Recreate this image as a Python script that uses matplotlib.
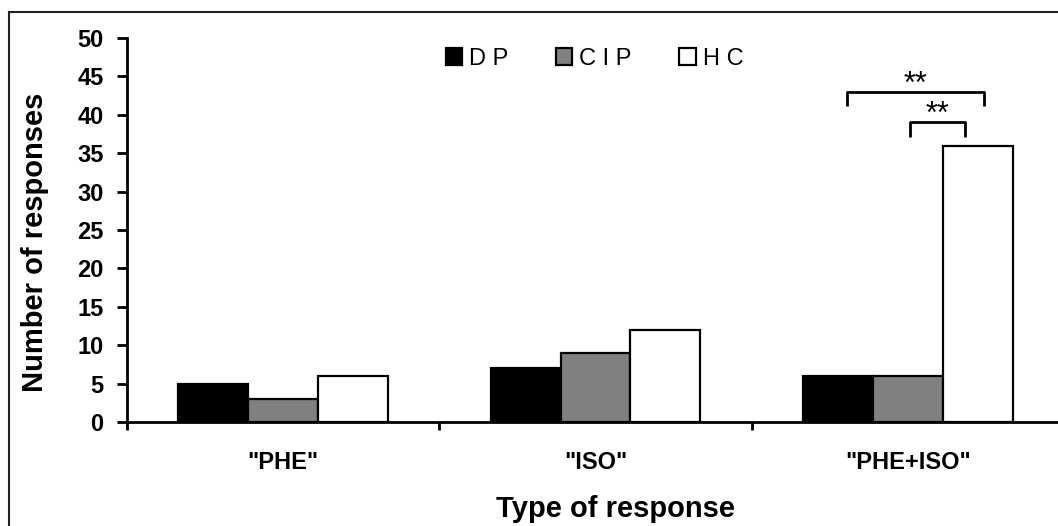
import matplotlib.pyplot as plt
import numpy as np
from matplotlib.lines import Line2D

plt.rcParams['font.family'] = ['Liberation Sans', 'DejaVu Sans']

# data
categories = ['"PHE"', '"ISO"', '"PHE+ISO"']
groups = ['DP', 'CIP', 'HC']
legend_labels = ['D P', 'C I P', 'H C']
dp = [5, 7, 6]
cip = [3, 9, 6]
hc = [6, 12, 36]
values = [dp, cip, hc]
colors = ['#000000', '#808080', '#ffffff']
# significance: (series a, series b, category, label)
comparisons = [(0, 2, 2, '**'), (1, 2, 2, '**')]

W, H = 1058, 526
fig = plt.figure(figsize=(W / 100, H / 100), dpi=100)
ax = fig.add_axes([127 / W, 1 - 422 / H, (1064 - 127) / W, (422 - 38) / H])

x = np.arange(len(categories))
bw = 0.224
for i, (vals, col, lab) in enumerate(zip(values, colors, legend_labels)):
    ax.bar(x + (i - 1) * bw, vals, width=bw, color=col, edgecolor='black',
           linewidth=1.6, label=lab, zorder=3)

ax.set_xlim(-0.5, 2.5)
ax.set_ylim(0, 50)
ax.set_yticks(np.arange(0, 51, 5))
ax.set_xticks(x)
ax.set_xticklabels(categories, fontsize=17, fontweight='bold')
ax.set_xticks([-0.5, 0.5, 1.5], minor=True)
ax.tick_params(axis='x', which='major', length=0, pad=21)
ax.tick_params(axis='x', which='minor', length=6, width=2, direction='out')
ax.tick_params(axis='y', length=7, width=2, direction='out', pad=10,
               labelsize=17)
for t in ax.get_yticklabels():
    t.set_fontweight('bold')

for s in ['top', 'right']:
    ax.spines[s].set_visible(False)
for s in ['left', 'bottom']:
    ax.spines[s].set_linewidth(2)

ax.set_ylabel('Number of responses', fontsize=21, fontweight='bold')
ax.yaxis.set_label_coords(-0.083, 0.469)
ax.set_xlabel('Type of response', fontsize=21, fontweight='bold')
ax.xaxis.set_label_coords(0.521, -0.19)

leg = ax.legend(loc='upper center', bbox_to_anchor=(0.499, 1.03), ncol=3,
                frameon=False, fontsize=17, handlelength=0.7, handleheight=0.7,
                handletextpad=0.3, columnspacing=2.0)

# significance brackets (ends offset from bar centres)
levels = [(43.0, 41.1), (39.1, 37.1)]
ends = [(0.029, 0.019), (0.006, -0.042)]
for (a, b, c, lab), (top, low), (ea, eb) in zip(comparisons, levels, ends):
    x0 = c + (a - 1) * bw + ea
    x1 = c + (b - 1) * bw + eb
    ax.plot([x0, x0, x1, x1], [low, top, top, low], color='black',
            linewidth=2, solid_capstyle='butt', clip_on=False)
    ax.text((x0 + x1) / 2, top - 0.2, lab, ha='center', va='baseline',
            fontsize=22)

# outer frame
fig.add_artist(Line2D([9 / W, 9 / W], [0, 1 - 12 / H], color='#222222',
                      linewidth=1.5, transform=fig.transFigure))
fig.add_artist(Line2D([9 / W, 1], [1 - 12 / H, 1 - 12 / H], color='#222222',
                      linewidth=1.5, transform=fig.transFigure))

fig.savefig('out.png', dpi=100)
